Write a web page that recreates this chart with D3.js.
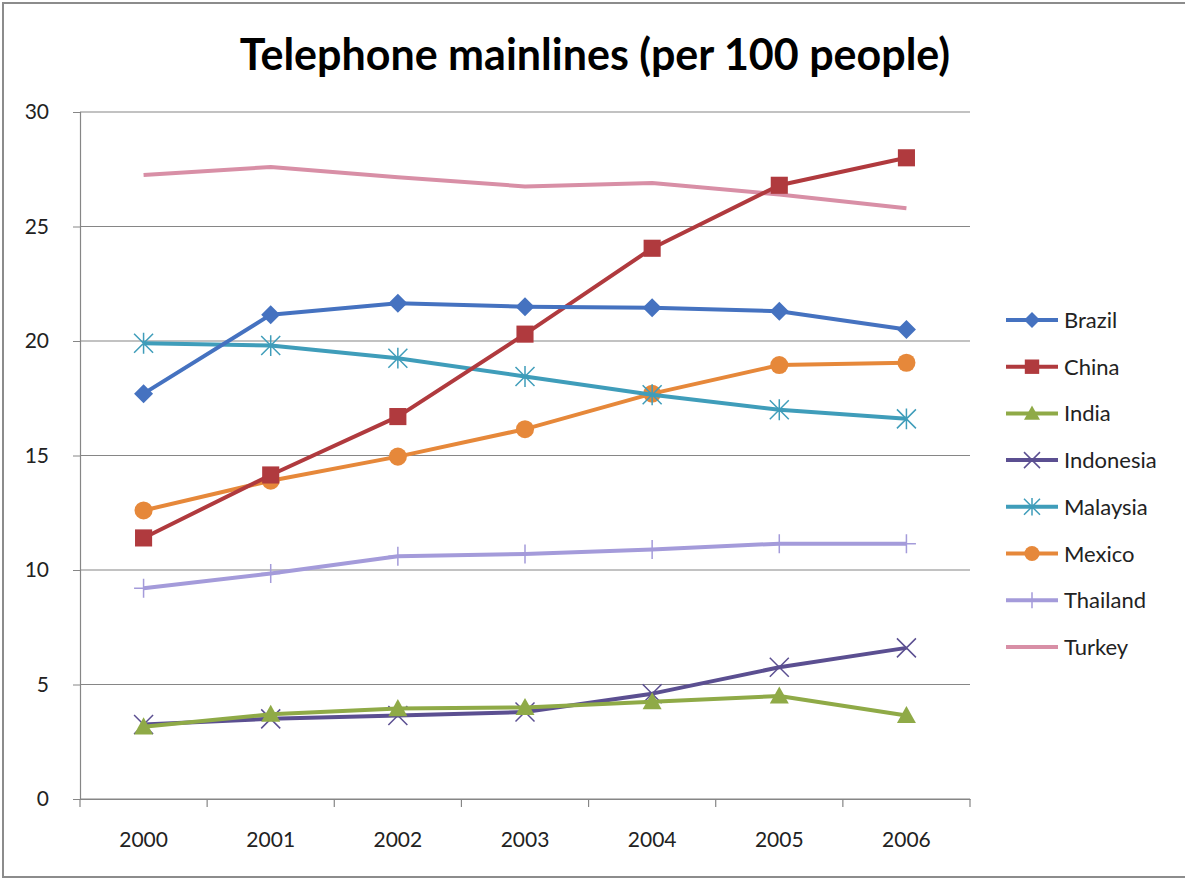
<!DOCTYPE html>
<html><head><meta charset="utf-8">
<script src="https://cdn.jsdelivr.net/npm/d3@7"></script>
<style>body{margin:0;background:#fff}svg{display:block}</style>
</head><body><svg id="c" width="1185" height="884"></svg>
<script>
const years = ["2000","2001","2002","2003","2004","2005","2006"];
const yTicks = [0,5,10,15,20,25,30];
const brazil    = [17.7,21.15,21.65,21.5,21.45,21.3,20.5];
const china     = [11.4,14.15,16.7,20.3,24.05,26.8,28.0];
const india     = [3.15,3.7,3.95,4.0,4.25,4.5,3.65];
const indonesia = [3.25,3.5,3.65,3.8,4.6,5.75,6.6];
const malaysia  = [19.9,19.8,19.25,18.45,17.65,17.0,16.6];
const mexico    = [12.6,13.9,14.95,16.15,17.7,18.95,19.05];
const thailand  = [9.2,9.85,10.6,10.7,10.9,11.15,11.15];
const turkey    = [27.25,27.6,27.15,26.75,26.9,26.4,25.8];
const seriesNames = ["Brazil","China","India","Indonesia","Malaysia","Mexico","Thailand","Turkey"];
const seriesVals = [brazil,china,india,indonesia,malaysia,mexico,thailand,turkey];
const colors = ["#4572C0","#B03A3E","#8FAA47","#5B4F91","#3F9DBA","#E6883A","#A49BDA","#D88FA6"];
const markers = ["diamond","square","triangle","x","asterisk","circle","plus","none"];

const svg = d3.select("#c");
const font = "Lato, 'Open Sans', sans-serif";
svg.append("rect").attr("x",3).attr("y",3).attr("width",1195).attr("height",874)
  .attr("fill","#fff").attr("stroke","#8c8c8c").attr("stroke-width",2);

const L=80,R=970,T=112,B=799;
const x = d3.scaleBand().domain(years).range([L,R]);
const y = d3.scaleLinear().domain([0,30]).range([B,T]);
const cx = d => x(d)+x.bandwidth()/2;

// gridlines
svg.append("g").selectAll("line").data(yTicks).join("line")
  .attr("x1",L).attr("x2",R).attr("y1",d=>y(d)).attr("y2",d=>y(d))
  .attr("stroke","#868686").attr("stroke-width",1.2);

// y axis
const ya = svg.append("g").attr("transform",`translate(${L},0)`)
  .call(d3.axisLeft(y).tickValues(yTicks).tickSize(7).tickPadding(24));
ya.select(".domain").attr("stroke","#868686").attr("stroke-width",1.2);
ya.selectAll(".tick line").attr("stroke","#868686");
ya.selectAll("text").attr("font-family",font).attr("font-size",21).attr("fill","#222");

// x axis
const xa = svg.append("g").attr("transform",`translate(0,${B})`)
  .call(d3.axisBottom(x).tickSize(0).tickPadding(33));
xa.select(".domain").attr("stroke","#868686").attr("stroke-width",1.2);
xa.selectAll("text").attr("font-family",font).attr("font-size",21).attr("fill","#222");
svg.append("g").selectAll("line").data(years.concat(["end"])).join("line")
  .attr("x1",(d,i)=>L+i*x.bandwidth()).attr("x2",(d,i)=>L+i*x.bandwidth())
  .attr("y1",B).attr("y2",B+8).attr("stroke","#868686").attr("stroke-width",1.2);

function drawMarker(g, type, color, s){
  if(type==="diamond") g.append("path").attr("d",`M0,${-s}L${s},0L0,${s}L${-s},0Z`).attr("fill",color);
  else if(type==="square") g.append("rect").attr("x",-s*0.9).attr("y",-s*0.9).attr("width",s*1.8).attr("height",s*1.8).attr("fill",color);
  else if(type==="triangle") g.append("path").attr("d",`M0,${-s}L${s},${s*0.8}L${-s},${s*0.8}Z`).attr("fill",color);
  else if(type==="circle") g.append("circle").attr("r",s*0.95).attr("fill",color);
  else if(type==="x") g.append("path").attr("d",`M${-s},${-s}L${s},${s}M${-s},${s}L${s},${-s}`).attr("stroke",color).attr("stroke-width",1.5);
  else if(type==="asterisk") g.append("path").attr("d",`M${-s},${-s}L${s},${s}M${-s},${s}L${s},${-s}M0,${-s*1.1}L0,${s*1.1}`).attr("stroke",color).attr("stroke-width",1.5);
  else if(type==="plus") g.append("path").attr("d",`M${-s},0L${s},0M0,${-s}L0,${s}`).attr("stroke",color).attr("stroke-width",1.5);
}

const line = d3.line().x((d,i)=>cx(years[i])).y(d=>y(d));
for(let k=seriesNames.length-1;k>=0;k--){
  const vals = seriesVals[k];
  svg.append("path").datum(vals).attr("d",line).attr("fill","none")
    .attr("stroke",colors[k]).attr("stroke-width",4).attr("stroke-linejoin","round");
  vals.forEach((v,i)=>{
    const g = svg.append("g").attr("transform",`translate(${cx(years[i])},${y(v)})`);
    drawMarker(g, markers[k], colors[k], 9.5);
  });
}

// legend
const lg = svg.append("g");
seriesNames.forEach((n,k)=>{
  const ly = 320 + k*46.7;
  lg.append("line").attr("x1",1006).attr("x2",1058).attr("y1",ly).attr("y2",ly)
    .attr("stroke",colors[k]).attr("stroke-width",4);
  const g = lg.append("g").attr("transform",`translate(1032,${ly})`);
  drawMarker(g, markers[k], colors[k], 8);
  lg.append("text").attr("x",1064).attr("y",ly+8).text(n)
    .attr("font-family",font).attr("font-size",22).attr("fill","#222");
});

// title
svg.append("text").attr("x",595).attr("y",70).attr("text-anchor","middle")
  .attr("font-family",font).attr("font-weight","bold").attr("font-size",43).attr("fill","#000")
  .text("Telephone mainlines (per 100 people)");
</script></body></html>
